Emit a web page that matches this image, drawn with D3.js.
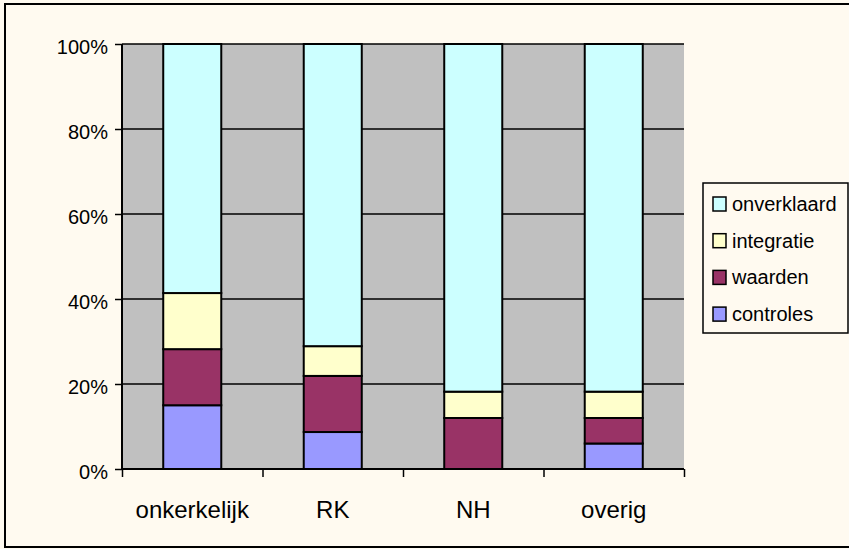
<!DOCTYPE html>
<html>
<head>
<meta charset="utf-8">
<script src="https://cdn.jsdelivr.net/npm/d3@7"></script>
<style>
  body { margin: 0; background: #fffaf0; }
  svg { display: block; font-family: "Liberation Sans", Arial, sans-serif; }
</style>
</head>
<body>
<div class="viz"></div>
<script>
// data (shares, in %)
var categories = ['onkerkelijk', 'RK', 'NH', 'overig'];
var seriesNames = ['controles', 'waarden', 'integratie', 'onverklaard'];
var controles   = [15.0, 8.7, 0.0, 6.0];
var waarden     = [13.2, 13.2, 12.0, 6.0];
var integratie  = [13.2, 7.0, 6.2, 6.2];
var onverklaard = [58.6, 71.1, 81.8, 81.8];
var yTicks = [0, 20, 40, 60, 80, 100];

var colors = {
    controles: '#9999ff',
    waarden: '#993366',
    integratie: '#ffffcc',
    onverklaard: '#ccffff'
};

var width = 849, height = 549;
var plot = { left: 122, right: 684, top: 44, bottom: 469 };

var rows = categories.map(function (c, i) {
    return { cat: c, controles: controles[i], waarden: waarden[i], integratie: integratie[i], onverklaard: onverklaard[i] };
});

var svg = d3.select('.viz').append('svg')
    .attr('width', width)
    .attr('height', height);

// outer frame
svg.append('rect')
    .attr('x', 5).attr('y', 4)
    .attr('width', 870).attr('height', 543)
    .attr('fill', '#fffaf0')
    .attr('stroke', '#000')
    .attr('stroke-width', 2);

var x = d3.scaleBand()
    .domain(categories)
    .range([plot.left, plot.right])
    .paddingInner(0.587)
    .paddingOuter(0.2935);

var xEdge = d3.scaleLinear()
    .domain([0, categories.length])
    .range([plot.left, plot.right]);

var y = d3.scaleLinear()
    .domain([0, 100])
    .range([plot.bottom, plot.top]);

// plot area
svg.append('rect')
    .attr('x', plot.left).attr('y', plot.top)
    .attr('width', plot.right - plot.left)
    .attr('height', plot.bottom - plot.top)
    .attr('fill', '#c0c0c0');

// gridlines
svg.append('g')
    .selectAll('line')
    .data(yTicks.slice(1))
    .enter().append('line')
    .attr('x1', plot.left).attr('x2', plot.right)
    .attr('y1', function (d) { return y(d); })
    .attr('y2', function (d) { return y(d); })
    .attr('stroke', '#000')
    .attr('stroke-width', 1.5);

// stacked bars
var stack = d3.stack().keys(seriesNames);
var layers = stack(rows);

svg.append('g')
    .selectAll('g')
    .data(layers)
    .enter().append('g')
    .attr('fill', function (d) { return colors[d.key]; })
    .selectAll('rect')
    .data(function (d) { return d.filter(function (p) { return p[1] - p[0] > 0; }); })
    .enter().append('rect')
    .attr('x', function (d) { return x(d.data.cat); })
    .attr('width', x.bandwidth())
    .attr('y', function (d) { return y(d[1]); })
    .attr('height', function (d) { return y(d[0]) - y(d[1]); })
    .attr('stroke', '#000')
    .attr('stroke-width', 2);

// y axis
var yAxis = svg.append('g')
    .attr('transform', 'translate(' + plot.left + ',0)')
    .call(d3.axisLeft(y).tickValues(yTicks).tickSize(7).tickPadding(7)
        .tickFormat(function (d) { return d + '%'; }));
yAxis.select('.domain').attr('stroke-width', 2).attr('d', 'M0,' + plot.top + 'V' + plot.bottom);
yAxis.selectAll('.tick line').attr('stroke-width', 1.5);
yAxis.selectAll('.tick text')
    .attr('font-size', 20)
    .attr('font-family', '"Liberation Sans", Arial, sans-serif')
    .attr('fill', '#000')
    .attr('dy', '0.48em');

// x axis: tick marks at category boundaries
var xAxis = svg.append('g')
    .attr('transform', 'translate(0,' + plot.bottom + ')')
    .call(d3.axisBottom(xEdge).tickValues(d3.range(categories.length + 1)).tickSize(8).tickFormat(''));
xAxis.select('.domain').attr('stroke-width', 2).attr('d', 'M' + plot.left + ',0H' + plot.right);
xAxis.selectAll('.tick line').attr('stroke-width', 1.5);

// category labels
svg.append('g')
    .selectAll('text')
    .data(categories)
    .enter().append('text')
    .attr('x', function (d) { return x(d) + x.bandwidth() / 2; })
    .attr('y', 518)
    .attr('text-anchor', 'middle')
    .attr('font-size', 24)
    .text(function (d) { return d; });

// legend
var legend = svg.append('g');
legend.append('rect')
    .attr('x', 703).attr('y', 183)
    .attr('width', 145).attr('height', 150)
    .attr('fill', '#fffaf0')
    .attr('stroke', '#000')
    .attr('stroke-width', 1.5);

var legendItems = seriesNames.slice().reverse();
var item = legend.selectAll('.item')
    .data(legendItems)
    .enter().append('g')
    .attr('class', 'item')
    .attr('transform', function (d, i) { return 'translate(713,' + (204 + i * 36.7) + ')'; });

item.append('rect')
    .attr('x', 0).attr('y', -7)
    .attr('width', 13).attr('height', 14)
    .attr('fill', function (d) { return colors[d]; })
    .attr('stroke', '#000')
    .attr('stroke-width', 1.5);

item.append('text')
    .attr('x', 19)
    .attr('y', 7)
    .attr('font-size', 20)
    .text(function (d) { return d; });
</script>
</body>
</html>
